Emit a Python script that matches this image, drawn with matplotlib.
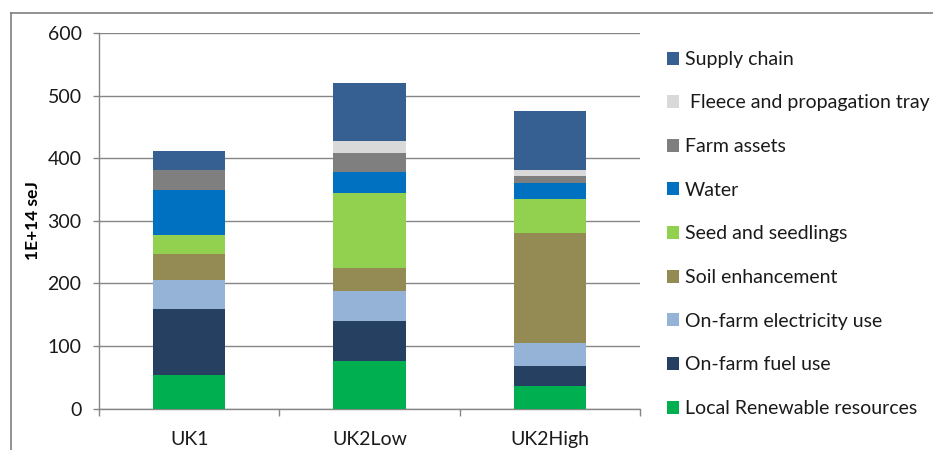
import matplotlib
matplotlib.use('Agg')

import matplotlib.pyplot as plt
import numpy as np
from matplotlib.patches import Patch
from matplotlib.lines import Line2D

plt.rcParams['font.family'] = ['Lato', 'DejaVu Sans']

scenarios = ['UK1', 'UK2Low', 'UK2High']

# emergy contributions, 1E+14 seJ, stacked bottom to top
local_renewable = [53, 76, 36]
farm_fuel = [106, 64, 32]
farm_electricity = [46, 48, 37]
soil_enhancement = [42, 36, 175]
seed_seedlings = [30, 121, 55]
water = [72, 34, 25]
farm_assets = [32, 30, 12]
fleece_tray = [0, 18, 9]
supply_chain = [30, 94, 95]

series = [
    ('Local Renewable resources', local_renewable, '#00b050'),
    ('On-farm fuel use', farm_fuel, '#254061'),
    ('On-farm electricity use', farm_electricity, '#95b3d7'),
    ('Soil enhancement', soil_enhancement, '#948a54'),
    ('Seed and seedlings', seed_seedlings, '#92d050'),
    ('Water', water, '#0070c0'),
    ('Farm assets', farm_assets, '#7f7f7f'),
    (' Fleece and propagation tray', fleece_tray, '#d9d9d9'),
    ('Supply chain', supply_chain, '#376092'),
]

fig = plt.figure(figsize=(9.33, 4.5), dpi=100)
ax = fig.add_axes([0.1061, 0.0922, 0.686 - 0.1061, 0.926 - 0.0922])

x = np.arange(len(scenarios))
bottom = np.zeros(len(scenarios))
handles = []
for name, vals, col in series:
    ax.bar(x, vals, 0.4, bottom=bottom, color=col, linewidth=0, zorder=3)
    bottom += np.array(vals)
    handles.append(Patch(facecolor=col, edgecolor='none', label=name))

gc = '#868686'
ax.set_xlim(-0.5, 2.5)
ax.set_ylim(0, 600)
ax.set_yticks(np.arange(0, 601, 100))
ax.yaxis.grid(True, color=gc, linewidth=1.0, zorder=0)
ax.set_axisbelow(True)
for s in ['top', 'right']:
    ax.spines[s].set_visible(False)
for s in ['left', 'bottom']:
    ax.spines[s].set_color(gc)
    ax.spines[s].set_linewidth(1.0)

ax.set_xticks(x)
ax.set_xticklabels(scenarios)
ax.set_xticks(np.arange(-0.5, 2.6, 1), minor=True)
ax.tick_params(axis='x', which='major', length=0, pad=16, labelsize=14, labelcolor='#1a1a1a')
ax.tick_params(axis='x', which='minor', length=5, width=1.0, color=gc, direction='out')
ax.tick_params(axis='y', length=4.5, width=1.0, color=gc, pad=8, labelsize=14, labelcolor='#1a1a1a')

ax.set_ylabel('1E+14 seJ', fontsize=12.5, fontweight='bold', labelpad=5)

leg = fig.legend(handles=handles[::-1], loc='upper left', bbox_to_anchor=(0.7145, 0.887),
                 frameon=False, fontsize=14, handlelength=0.65, handleheight=0.65,
                 handletextpad=0.3, labelspacing=1.37, borderpad=0, borderaxespad=0)
for t in leg.get_texts():
    t.set_color('#1a1a1a')

# outer chart frame
fig.add_artist(Line2D([11 / 933, 11 / 933], [0, 1 - 13 / 450], transform=fig.transFigure,
                      color='#7f7f7f', linewidth=1.2))
fig.add_artist(Line2D([11 / 933, 1], [1 - 13 / 450, 1 - 13 / 450], transform=fig.transFigure,
                      color='#7f7f7f', linewidth=1.2))

fig.savefig('out.png', dpi=100)
